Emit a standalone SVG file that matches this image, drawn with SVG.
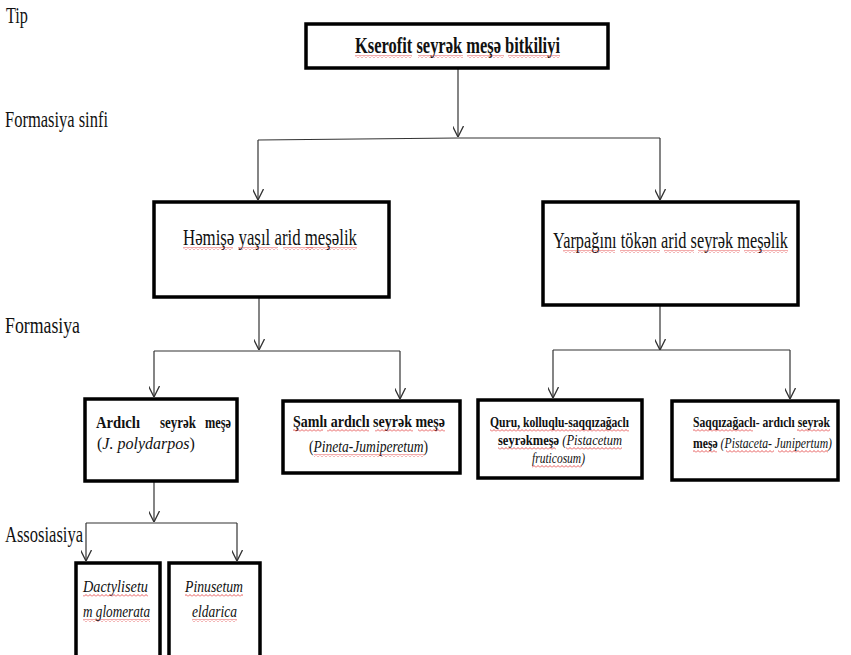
<svg xmlns="http://www.w3.org/2000/svg" width="851" height="655" viewBox="0 0 851 655">
  <style>
    text { font-family: "Liberation Serif", "DejaVu Serif", "Times New Roman", serif; fill: #111; }
    .lvl { font-size: 23px; }
    .title { font-size: 23px; font-weight: bold; }
    .big { font-size: 23px; }
    .sm { font-size: 16px; }
    .md { font-size: 17px; }
    .xs { font-size: 15px; }
    .b { font-weight: bold; }
    .i { font-style: italic; }
    .box { fill: #fff; stroke: #000; stroke-width: 3.5; }
    .conn { fill: none; stroke: #333; stroke-width: 1.2; }
    .sq { fill: url(#wave); }
  </style>
  <defs>
    <marker id="arrow" viewBox="0 0 10 10" refX="10" refY="5" markerWidth="11" markerHeight="11" markerUnits="userSpaceOnUse" orient="auto">
      <path d="M0,0 L10,5 L0,10" fill="none" stroke="#333" stroke-width="1.2"/>
    </marker>
    <!-- red spell-check wave used under words -->
    <pattern id="wave" width="4" height="3" patternUnits="userSpaceOnUse">
      <path d="M0,2.5 L2,0.5 L4,2.5" fill="none" stroke="#e03030" stroke-width="0.8"/>
    </pattern>
  </defs>

  <rect width="851" height="655" fill="#fff"/>

  <!-- level labels -->
  <g id="levels">
    <text class="lvl" x="6" y="23" textLength="22" lengthAdjust="spacingAndGlyphs">Tip</text>
    <text class="lvl" x="5" y="127" textLength="103" lengthAdjust="spacingAndGlyphs">Formasiya sinfi</text>
    <text class="lvl" x="5" y="333" textLength="75" lengthAdjust="spacingAndGlyphs">Formasiya</text>
    <text class="lvl" x="5" y="542" textLength="78" lengthAdjust="spacingAndGlyphs">Assosiasiya</text>
  </g>

  <!-- connectors -->
  <g id="connectors">
    <path class="conn" d="M458,68 V137" marker-end="url(#arrow)"/>
    <path class="conn" d="M258,140 L458,138 L660,138"/>
    <path class="conn" d="M258,140 V200" marker-end="url(#arrow)"/>
    <path class="conn" d="M660,138 V200" marker-end="url(#arrow)"/>

    <path class="conn" d="M259,297 V350" marker-end="url(#arrow)"/>
    <path class="conn" d="M154,351 H400"/>
    <path class="conn" d="M154,351 V397" marker-end="url(#arrow)"/>
    <path class="conn" d="M400,351 V399" marker-end="url(#arrow)"/>

    <path class="conn" d="M660,305 V350" marker-end="url(#arrow)"/>
    <path class="conn" d="M553,350 H790"/>
    <path class="conn" d="M553,350 V398" marker-end="url(#arrow)"/>
    <path class="conn" d="M790,350 V399" marker-end="url(#arrow)"/>

    <path class="conn" d="M154,482 V522" marker-end="url(#arrow)"/>
    <path class="conn" d="M86,523 H237"/>
    <path class="conn" d="M86,523 V561" marker-end="url(#arrow)"/>
    <path class="conn" d="M237,523 V561" marker-end="url(#arrow)"/>
  </g>

  <!-- Tip -->
  <g id="node-kserofit">
    <rect class="box" x="306" y="24" width="302" height="44"/>
    <text class="title" x="355" y="53" textLength="205" lengthAdjust="spacingAndGlyphs">Kserofit seyrək meşə bitkiliyi</text>
    <rect class="sq" x="355" y="55" width="57" height="3"/>
    <rect class="sq" x="418" y="55" width="45" height="3"/>
    <rect class="sq" x="467" y="55" width="37" height="3"/>
    <rect class="sq" x="508" y="55" width="52" height="3"/>
  </g>

  <!-- Formasiya sinfi -->
  <g id="node-hemise">
    <rect class="box" x="154" y="202" width="235" height="95"/>
    <text class="big" x="183" y="245" textLength="174" lengthAdjust="spacingAndGlyphs">Həmişə yaşıl arid meşəlik</text>
    <rect class="sq" x="183" y="247" width="50" height="3"/>
    <rect class="sq" x="238" y="247" width="40" height="3"/>
    <rect class="sq" x="283" y="247" width="30" height="3"/>
    <rect class="sq" x="306" y="247" width="51" height="3"/>
  </g>

  <g id="node-yarpagini">
    <rect class="box" x="543" y="202" width="255" height="103"/>
    <text class="big" x="553" y="248" textLength="235" lengthAdjust="spacingAndGlyphs">Yarpağını tökən arid seyrək meşəlik</text>
    <rect class="sq" x="563" y="250" width="52" height="3"/>
    <rect class="sq" x="620" y="250" width="40" height="3"/>
    <rect class="sq" x="664" y="250" width="30" height="3"/>
    <rect class="sq" x="698" y="250" width="42" height="3"/>
    <rect class="sq" x="744" y="250" width="44" height="3"/>
  </g>

  <!-- Formasiya -->
  <g id="node-ardicli">
    <rect class="box" x="85" y="399" width="152" height="82"/>
    <text class="sm b" x="96" y="428" textLength="44" lengthAdjust="spacingAndGlyphs">Ardıclı</text>
    <text class="sm b" x="160" y="428" textLength="36" lengthAdjust="spacingAndGlyphs">seyrək</text>
    <text class="sm b" x="205" y="428" textLength="26" lengthAdjust="spacingAndGlyphs">meşə</text>
    <text class="sm" x="97" y="449">(<tspan class="i">J. polydarpos</tspan>)</text>
  </g>

  <g id="node-samli">
    <rect class="box" x="283" y="401" width="177" height="72"/>
    <text class="sm b" x="293" y="427" textLength="152" lengthAdjust="spacingAndGlyphs">Şamlı ardıclı seyrək meşə</text>
    <rect class="sq" x="293" y="429" width="30" height="3"/>
    <rect class="sq" x="327" y="429" width="42" height="3"/>
    <rect class="sq" x="375" y="429" width="38" height="3"/>
    <rect class="sq" x="418" y="429" width="27" height="3"/>
    <text class="sm" x="309" y="452" textLength="119" lengthAdjust="spacingAndGlyphs">(<tspan class="i">Pineta-Jumiperetum</tspan>)</text>
    <rect class="sq" x="314" y="454" width="110" height="3"/>
  </g>

  <g id="node-quru">
    <rect class="box" x="478" y="400" width="164" height="78"/>
    <text class="xs b" x="490" y="427" textLength="139" lengthAdjust="spacingAndGlyphs">Quru, kolluqlu-saqqızağaclı</text>
    <rect class="sq" x="490" y="429" width="139" height="3"/>
    <text class="xs" x="498" y="445" textLength="124" lengthAdjust="spacingAndGlyphs"><tspan class="b">seyrəkmeşə </tspan><tspan class="i">(Pistacetum</tspan></text>
    <rect class="sq" x="498" y="447" width="58" height="3"/>
    <rect class="sq" x="566" y="447" width="56" height="3"/>
    <text class="xs i" x="532" y="463" textLength="53" lengthAdjust="spacingAndGlyphs">fruticosum)</text>
    <rect class="sq" x="532" y="465" width="50" height="3"/>
  </g>

  <g id="node-saqqiz">
    <rect class="box" x="672" y="401" width="166" height="79"/>
    <text class="xs b" x="693" y="427" textLength="137" lengthAdjust="spacingAndGlyphs">Saqqızağaclı- ardıclı seyrək</text>
    <rect class="sq" x="693" y="429" width="60" height="3"/>
    <rect class="sq" x="797" y="429" width="33" height="3"/>
    <text class="xs" x="693" y="448" textLength="139" lengthAdjust="spacingAndGlyphs"><tspan class="b">meşə </tspan><tspan class="i">(Pistaceta- Junipertum)</tspan></text>
    <rect class="sq" x="693" y="450" width="24" height="3"/>
    <rect class="sq" x="726" y="450" width="48" height="3"/>
    <rect class="sq" x="778" y="450" width="50" height="3"/>
  </g>

  <!-- Assosiasiya -->
  <g id="node-dactylisetum">
    <rect class="box" x="76" y="563" width="84" height="100"/>
    <text class="md i" x="83" y="592" textLength="65" lengthAdjust="spacingAndGlyphs">Dactylisetu</text>
    <rect class="sq" x="83" y="594" width="65" height="3"/>
    <text class="md i" x="83" y="617" textLength="67" lengthAdjust="spacingAndGlyphs">m glomerata</text>
    <rect class="sq" x="83" y="619" width="67" height="3"/>
  </g>

  <g id="node-pinusetum">
    <rect class="box" x="169" y="563" width="91" height="100"/>
    <text class="md i" x="185" y="592" textLength="58" lengthAdjust="spacingAndGlyphs">Pinusetum</text>
    <rect class="sq" x="185" y="594" width="58" height="3"/>
    <text class="md i" x="192" y="617" textLength="45" lengthAdjust="spacingAndGlyphs">eldarica</text>
    <rect class="sq" x="192" y="619" width="45" height="3"/>
  </g>
</svg>
